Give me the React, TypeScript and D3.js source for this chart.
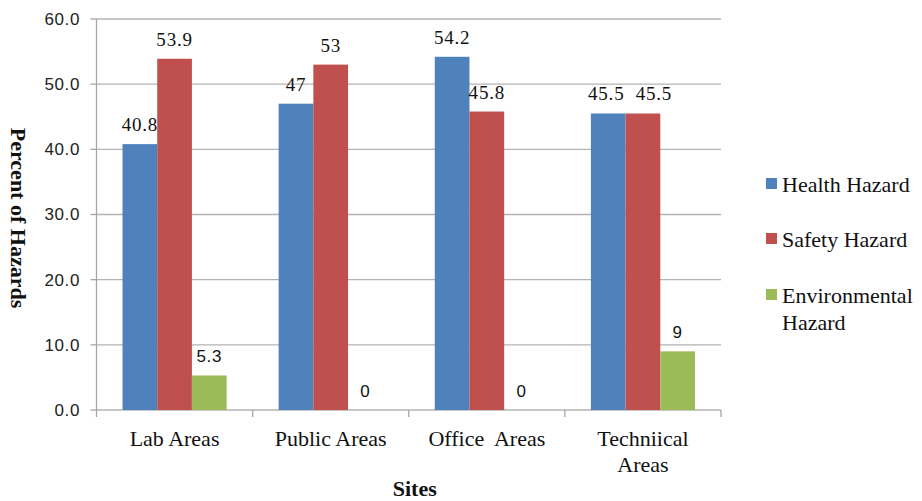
import { useEffect, useRef } from 'react';
import * as d3 from 'd3';

const categories = ['Lab Areas', 'Public Areas', 'Office  Areas', 'Techniical Areas'];
const categoryLines = [['Lab Areas'], ['Public Areas'], ['Office  Areas'], ['Techniical', 'Areas']];
const seriesNames = ['Health Hazard', 'Safety Hazard', 'Environmental Hazard'];
const legendLines = [['Health Hazard'], ['Safety Hazard'], ['Environmental', 'Hazard']];
const healthValues = [40.8, 47, 54.2, 45.5];
const safetyValues = [53.9, 53, 45.8, 45.5];
const environmentalValues = [5.3, 0, 0, 9];
const healthLabels = ['40.8', '47', '54.2', '45.5'];
const safetyLabels = ['53.9', '53', '45.8', '45.5'];
const environmentalLabels = ['5.3', '0', '0', '9'];
const yTicks = [0, 10, 20, 30, 40, 50, 60];
const colors = ['#4f81bd', '#c0504d', '#9bbb59'];

const W = 922;
const H = 501;
const SERIF = '"Liberation Serif", "Times New Roman", serif';
const SANS = '"Liberation Sans", Arial, sans-serif';

export default function App() {
  const svgRef = useRef<SVGSVGElement>(null);

  useEffect(() => {
    if (!svgRef.current) return;
    const svg = d3.select(svgRef.current);
    svg.selectAll('*').remove();

    const left = 96.5, right = 721, top = 19, bottom = 410;

    const x0 = d3.scaleBand<string>().domain(categories).range([left, right]).padding(0);
    const x1 = d3.scaleBand<string>().domain(seriesNames).range([0, x0.bandwidth()])
      .paddingInner(0).paddingOuter(0.75);
    const y = d3.scaleLinear().domain([0, 60]).range([bottom, top]);

    // gridlines
    svg.append('g')
      .selectAll('line')
      .data(yTicks)
      .enter()
      .append('line')
      .attr('x1', left)
      .attr('x2', right)
      .attr('y1', d => y(d))
      .attr('y2', d => y(d))
      .attr('stroke', '#b3b3b3')
      .attr('stroke-width', 1.3);

    // y axis line + ticks
    svg.append('line')
      .attr('x1', left).attr('x2', left)
      .attr('y1', top).attr('y2', bottom)
      .attr('stroke', '#a6a6a6').attr('stroke-width', 1.3);
    svg.append('g')
      .selectAll('line')
      .data(yTicks)
      .enter()
      .append('line')
      .attr('x1', left - 6).attr('x2', left)
      .attr('y1', d => y(d)).attr('y2', d => y(d))
      .attr('stroke', '#a6a6a6').attr('stroke-width', 1.3);

    svg.append('g')
      .selectAll('text')
      .data(yTicks)
      .enter()
      .append('text')
      .attr('x', 80)
      .attr('y', d => y(d))
      .attr('dy', '0.35em')
      .attr('text-anchor', 'end')
      .attr('font-family', SANS)
      .attr('font-size', 17)
      .attr('letter-spacing', 0.6)
      .attr('fill', '#222')
      .text(d => d.toFixed(1));

    // x axis ticks at category boundaries
    const bounds = categories.map(c => x0(c)!).concat([right]);
    svg.append('g')
      .selectAll('line')
      .data(bounds)
      .enter()
      .append('line')
      .attr('x1', d => d).attr('x2', d => d)
      .attr('y1', bottom).attr('y2', bottom + 7)
      .attr('stroke', '#a6a6a6').attr('stroke-width', 1.3);

    // bars
    const series = [healthValues, safetyValues, environmentalValues];
    const labels = [healthLabels, safetyLabels, environmentalLabels];
    series.forEach((vals, si) => {
      const g = svg.append('g');
      g.selectAll('rect')
        .data(vals)
        .enter()
        .append('rect')
        .attr('x', (d, i) => x0(categories[i])! + x1(seriesNames[si])!)
        .attr('y', d => y(d))
        .attr('width', x1.bandwidth())
        .attr('height', d => bottom - y(d))
        .attr('fill', colors[si]);

      // red label moves aside when it would collide with an equal blue label
      const nudge = (i: number) =>
        si === 1 && Math.abs(series[0][i] - vals[i]) < 1 ? 11 : si === 0 && Math.abs(series[1][i] - vals[i]) < 1 ? -2 : 0;

      g.selectAll('text')
        .data(vals)
        .enter()
        .append('text')
        .attr('x', (d, i) => x0(categories[i])! + x1(seriesNames[si])! + x1.bandwidth() / 2 + nudge(i))
        .attr('y', d => y(d) - 13)
        .attr('text-anchor', 'middle')
        .attr('font-family', si === 2 ? SANS : SERIF)
        .attr('font-size', si === 2 ? 17 : 19)
        .attr('letter-spacing', si === 2 ? 0.6 : 0.8)
        .attr('fill', '#111')
        .text((d, i) => labels[si][i]);
    });

    // category labels
    categoryLines.forEach((lines, i) => {
      const t = svg.append('text')
        .attr('x', x0(categories[i])! + x0.bandwidth() / 2)
        .attr('y', 446)
        .attr('text-anchor', 'middle')
        .attr('font-family', SERIF)
        .attr('font-size', 22)
        .attr('fill', '#111')
        .style('white-space', 'pre');
      lines.forEach((ln, li) => {
        t.append('tspan')
          .attr('x', x0(categories[i])! + x0.bandwidth() / 2)
          .attr('dy', li === 0 ? 0 : 26)
          .text(ln);
      });
    });

    // axis titles
    svg.append('text')
      .attr('x', (left + right) / 2 + 6)
      .attr('y', 496)
      .attr('text-anchor', 'middle')
      .attr('font-family', SERIF)
      .attr('font-weight', 'bold')
      .attr('font-size', 22)
      .attr('fill', '#111')
      .text('Sites');

    svg.append('text')
      .attr('transform', 'translate(11,218) rotate(90)')
      .attr('text-anchor', 'middle')
      .attr('font-family', SERIF)
      .attr('font-weight', 'bold')
      .attr('font-size', 22)
      .attr('fill', '#111')
      .text('Percent of Hazards');

    // legend
    const legendY = [184, 239, 295];
    legendLines.forEach((lines, i) => {
      svg.append('rect')
        .attr('x', 766)
        .attr('y', legendY[i] - 6)
        .attr('width', 11)
        .attr('height', 11)
        .attr('fill', colors[i]);
      const t = svg.append('text')
        .attr('x', 782)
        .attr('y', legendY[i])
        .attr('font-family', SERIF)
        .attr('font-size', 22)
        .attr('fill', '#111');
      lines.forEach((ln, li) => {
        t.append('tspan')
          .attr('x', 782)
          .attr('dy', li === 0 ? '0.35em' : 27)
          .text(ln);
      });
    });
  }, []);

  return (
    <svg
      ref={svgRef}
      width={W}
      height={H}
      style={{ position: 'absolute', left: 0, top: 0, background: '#fff' }}
    />
  );
}
